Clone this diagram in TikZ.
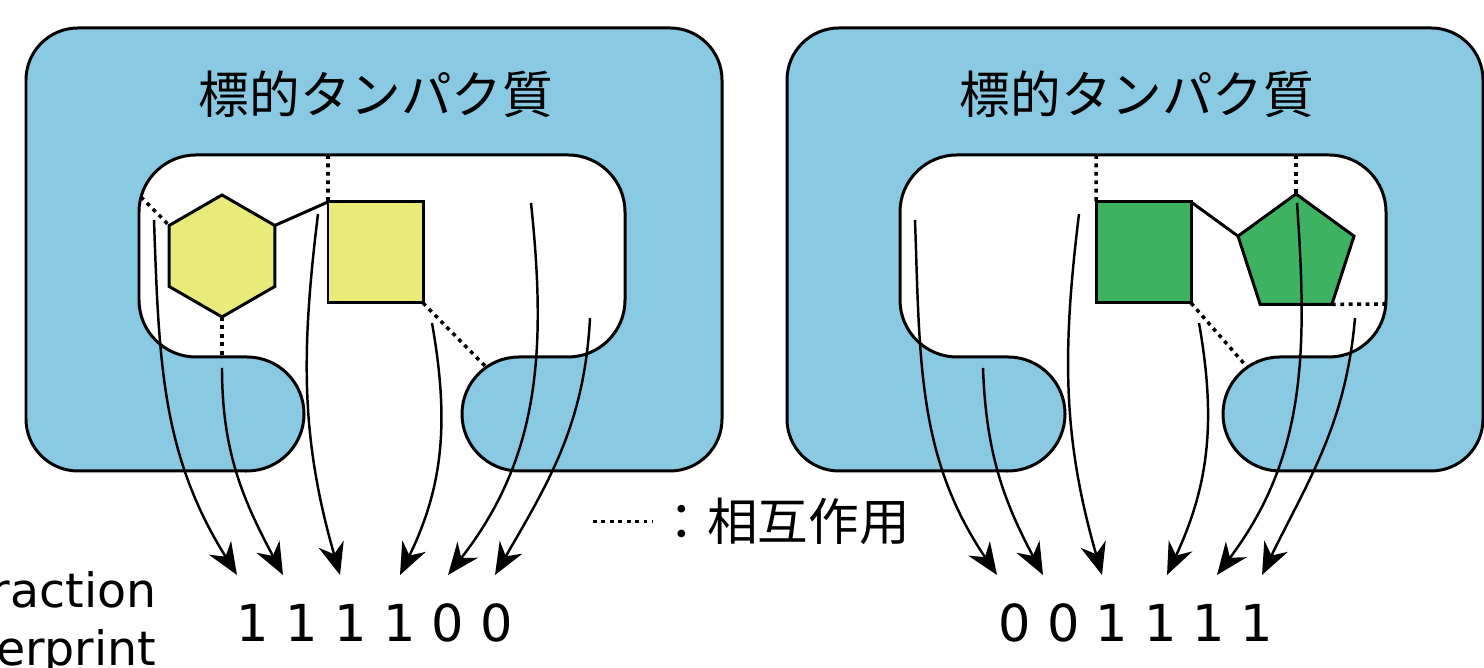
\documentclass[tikz,border=0pt]{standalone}
\usepackage{fontspec}
\setmainfont{DejaVu Sans}
\newfontfamily\jpfont{Noto Sans CJK JP}
\usetikzlibrary{shapes.geometric,arrows.meta}

\definecolor{pocketblue}{RGB}{137,201,225}
\definecolor{ligyellow}{RGB}{232,234,122}
\definecolor{liggreen}{RGB}{61,179,98}

\begin{document}
\begin{tikzpicture}[
    protein/.style={fill=pocketblue, draw=black, line width=0.85pt},
    frag/.style={draw=black, line width=0.85pt, inner sep=0pt, outer sep=0pt},
    bond/.style={line width=0.85pt},
    contact/.style={line width=1pt, dash pattern=on 1.1pt off 1.3pt},
    fparrow/.style={line width=0.7pt, -{Stealth[length=3.2mm,width=2.6mm]}},
    bit/.style={font=\fontsize{14.5pt}{17pt}\selectfont, anchor=base, inner sep=0pt},
    jp/.style={font=\jpfont\fontsize{14.4pt}{17pt}\selectfont, inner sep=0pt}
  ]
  \clip (0,0) rectangle (14.84,6.68);

  % Protein bodies, pocket cut out between the two lobes
  \foreach \dx/\n in {0/L, 7.61/R} {
    \begin{scope}[xshift=\dx cm]
      \draw[protein] (2.47,1.97) -- (0.78,1.97)
        arc[start angle=270, end angle=180, radius=0.52] -- (0.26,5.88)
        arc[start angle=180, end angle=90, radius=0.52] -- (6.70,6.40)
        arc[start angle=90, end angle=0, radius=0.52] -- (7.22,2.49)
        arc[start angle=0, end angle=-90, radius=0.52] -- (5.19,1.97)
        arc[start angle=-90, end angle=-270, radius=0.57] -- (5.68,3.11)
        arc[start angle=-90, end angle=0, radius=0.57] -- (6.25,4.56)
        arc[start angle=0, end angle=90, radius=0.57] -- (1.96,5.13)
        arc[start angle=90, end angle=180, radius=0.57] -- (1.39,3.68)
        arc[start angle=180, end angle=270, radius=0.57] -- (2.47,3.11)
        arc[start angle=90, end angle=-90, radius=0.57] -- cycle;
      \node[jp] (title\n) at (3.76,5.735) {標的タンパク質};
    \end{scope}
  }

  % Left ligand: hexagon + square
  \node[frag, fill=ligyellow, regular polygon, regular polygon sides=6,
    shape border rotate=30, minimum size=1.22cm] (hexL) at (2.22,4.12) {};
  \node[frag, fill=ligyellow, rectangle, minimum width=0.95cm,
    minimum height=1.01cm] (sqL) at (3.755,4.155) {};
  \draw[bond] (hexL.30) -- (sqL.north west);

  % contacts with the pocket wall
  \coordinate (wL1) at (3.28,5.13);
  \coordinate (wL2) at (1.41,4.71);
  \coordinate (wL3) at (2.22,3.11);
  \coordinate (wL4) at (4.863,3.007);
  \draw[contact] (wL1) -- (sqL.north west);
  \draw[contact] (wL2) -- (hexL.150);
  \draw[contact] (hexL.270) -- (wL3);
  \draw[contact] (sqL.south east) -- (wL4);

  % Right ligand: square + pentagon
  \node[frag, fill=liggreen, rectangle, minimum width=0.95cm,
    minimum height=1.01cm] (sqR) at (11.435,4.155) {};
  \node[frag, fill=liggreen, regular polygon, regular polygon sides=5,
    minimum size=1.22cm] (pentR) at (12.96,4.13) {};
  \draw[bond] (sqR.north east) -- (pentR.162);

  \coordinate (wR1) at (10.96,5.13);
  \coordinate (wR2) at (12.96,5.13);
  \coordinate (wR3) at (13.86,3.64);
  \coordinate (wR4) at (12.473,3.007);
  \draw[contact] (wR1) -- (sqR.north west);
  \draw[contact] (wR2) -- (pentR.90);
  \draw[contact] (pentR.-54) -- (wR3);
  \draw[contact] (sqR.south east) -- (wR4);

  % residue arrows down to the bit strings
  \foreach \sx/\sy/\tx/\o/\i [count=\k] in {1.54/4.48/2.37/-88/122, 2.22/3.00/2.83/-90/118,
      3.18/4.54/3.40/-97/106, 4.32/3.45/4.00/-80/64, 5.31/4.65/4.48/-84/52, 5.90/3.50/4.95/-93/60} {
    \coordinate (sL\k) at (\sx,\sy);
    \coordinate (tL\k) at (\tx,0.93);
    \draw[fparrow] (sL\k) to[out=\o,in=\i] (tL\k);
  }
  \foreach \sx/\sy/\tx/\o/\i [count=\k] in {9.15/4.48/9.97/-88/124, 9.83/3.00/10.43/-88/118,
      10.79/4.54/11.02/-97/106, 11.99/3.45/11.67/-80/65, 12.97/4.65/12.17/-86/53, 13.55/3.50/12.62/-95/64} {
    \coordinate (sR\k) at (\sx,\sy);
    \coordinate (tR\k) at (\tx,0.93);
    \draw[fparrow] (sR\k) to[out=\o,in=\i] (tR\k);
  }

  % bit strings
  \foreach \b [count=\k] in {1,1,1,1,0,0}
    \node[bit] (bitL\k) at ({2.53+0.488*(\k-1)},0.26) {\b};
  \foreach \b [count=\k] in {0,0,1,1,1,1}
    \node[bit] (bitR\k) at ({10.15+0.484*(\k-1)},0.26) {\b};

  % legend
  \node[jp, anchor=west] (legend) at (6.56,1.465) {：相互作用};
  \coordinate (keystart) at (5.93,1.465);
  \draw[contact] (keystart) -- ([xshift=-0.03cm]legend.west);

  % row label
  \node[anchor=base east, inner sep=0pt, font=\fontsize{13.5pt}{16pt}\selectfont] (fpA) at (1.57,0.60) {raction};
  \node[anchor=base east, inner sep=0pt, font=\fontsize{13.5pt}{16pt}\selectfont] (fpB) at (1.57,0.02) {erprint};
\end{tikzpicture}
\end{document}
